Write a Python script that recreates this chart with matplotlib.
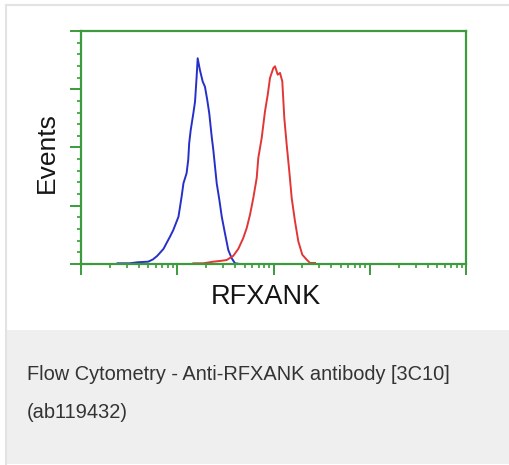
import matplotlib
matplotlib.use("Agg")
import matplotlib.pyplot as plt
from matplotlib.lines import Line2D
from matplotlib.patches import Rectangle
from matplotlib.ticker import LogLocator, MultipleLocator, NullFormatter

# isotype control (blue) and anti-RFXANK stained cells (red)
control_x = [2.4, 3.2, 3.9, 5.0, 5.6, 6.2, 7.2, 8.1, 8.4, 9.1, 10.3, 11.1,
             11.6, 12.5, 13.0, 13.3, 13.8, 14.7, 15.3, 15.9, 16.3, 17.2,
             18.4, 19.4, 20.5, 21.5, 22.8, 23.7, 25.7, 27.4, 29.0, 31.3,
             33.9, 36.8, 39.8, 44.9]
control_counts = [0.6, 0.6, 1.5, 2.0, 4.0, 7.0, 13.0, 21.0, 23.4, 29.2,
                  40.6, 57.8, 69.3, 77.9, 89.3, 103.6, 115.0, 129.4, 139.3,
                  160.8, 176.6, 166.5, 156.5, 152.2, 140.8, 129.4, 109.3,
                  97.9, 69.3, 54.9, 40.6, 26.4, 12.0, 4.9, 0.6, 0.0]

stained_x = [14.7, 18.7, 23.7, 27.8, 32.6, 38.2, 43.1, 48.5, 52.7, 57.0,
             61.7, 66.9, 69.5, 75.4, 81.6, 87.1, 92.0, 99.6, 103.7, 110.6,
             116.9, 123.4, 129.5, 137.1, 145.9, 154.5, 167.2, 181.0, 199.1,
             221.3, 239.5, 269.8]
stained_counts = [0.6, 0.6, 2.0, 2.6, 3.4, 7.0, 13.0, 22.3, 30.9, 42.3,
                  56.7, 73.8, 91.0, 108.2, 131.1, 145.3, 159.7, 168.2, 169.7,
                  162.5, 164.0, 156.8, 125.3, 102.4, 79.6, 56.7, 36.7, 19.5,
                  8.0, 3.7, 0.9, 0.9]

x_label = "RFXANK"
y_label = "Events"
caption_lines = ["Flow Cytometry - Anti-RFXANK antibody [3C10]", "(ab119432)"]

W, H = 509, 465
axis_green = "#3d9a3d"

fig = plt.figure(figsize=(W / 100, H / 100), dpi=100)
fig.patch.set_facecolor("white")

# card frame and caption panel
fig.add_artist(Line2D([5.5 / W, 5.5 / W], [0, 1 - 5.5 / H], color="#e3e3e3",
                      lw=1.5, transform=fig.transFigure))
fig.add_artist(Line2D([5.5 / W, 1], [1 - 5.5 / H, 1 - 5.5 / H], color="#e3e3e3",
                      lw=1.5, transform=fig.transFigure))
fig.add_artist(Rectangle((6 / W, 1 / H), 1 - 6 / W, 134 / H, facecolor="#eeefee",
                         edgecolor="none", transform=fig.transFigure))

ax = fig.add_axes([81 / W, 1 - 264 / H, 385 / W, 233 / H])
ax.plot(control_x, control_counts, color="#2630c8", lw=1.4)
ax.plot(stained_x, stained_counts, color="#e23636", lw=1.4)

ax.set_xscale("log")
ax.set_xlim(1, 1e4)
ax.set_ylim(0, 200)
ax.xaxis.set_major_locator(LogLocator(base=10, numticks=10))
ax.xaxis.set_minor_locator(LogLocator(base=10, subs=range(2, 10), numticks=20))
ax.xaxis.set_major_formatter(NullFormatter())
ax.xaxis.set_minor_formatter(NullFormatter())
ax.yaxis.set_major_locator(MultipleLocator(50))
ax.yaxis.set_minor_locator(MultipleLocator(10))
ax.yaxis.set_major_formatter(NullFormatter())

for side in ["left", "right", "top", "bottom"]:
    ax.spines[side].set_color(axis_green)
    ax.spines[side].set_linewidth(1.6)
ax.tick_params(which="major", direction="out", length=8, width=1.4,
               color=axis_green)
ax.tick_params(which="minor", direction="out", length=3, width=1.2,
               color=axis_green)
ax.tick_params(top=False, right=False, which="both")

fig.text(46.5 / W, 1 - 153 / H, y_label, rotation=90, ha="center",
         va="center", fontsize=19, family="Liberation Sans", color="#151515")
fig.text(266 / W, 1 - 297 / H, x_label, ha="center", va="center",
         fontsize=19.5, family="Liberation Sans", color="#151515")

fig.text(27 / W, 1 - 374 / H, caption_lines[0], ha="left", va="center",
         fontsize=14.4, family="Liberation Sans", color="#333333")
fig.text(27 / W, 1 - 412 / H, caption_lines[1], ha="left", va="center",
         fontsize=14.4, family="Liberation Sans", color="#333333")

fig.savefig("out.png", dpi=100)
